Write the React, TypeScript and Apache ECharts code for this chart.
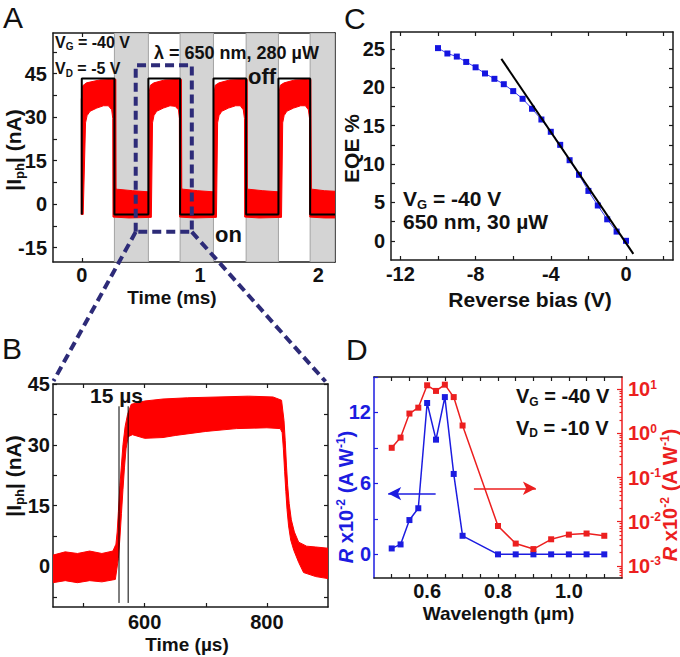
import React, { useEffect, useRef } from 'react';
import * as echarts from 'echarts';

const FONT = '"Liberation Sans", Arial, Helvetica, sans-serif';
const BLACK = '#1a1a1a';
const RED = '#ff0000';
const NAVY = '#2d2b78';
const C_BLUE = '#1515e0';
const D_BLUE = '#1c1ce0';
const D_RED = '#ec1f1f';
const TICK_FONT = 20;
const TITLE_FONT = 19;

// ---------------- Panel A : photocurrent vs time (ms) ----------------
const aTimeRange = [-0.243, 2.14];
const aCurrentRange = [-20, 59];
const aTimeTicks = [0, 0.5, 1, 1.5, 2];
const aTimeLabels = [0, 1, 2];
const aCurrentTicks = [-15, -7.5, 0, 7.5, 15, 22.5, 30, 37.5, 45, 52.5];
const aCurrentLabels = [-15, 0, 15, 30, 45];
const aOffStart = [0.276, 0.831, 1.389, 1.93];
const aOffEnd = [0.563, 1.113, 1.662, 2.14];
const aDriveHigh = 43.3;
const aDriveLow = -3.6;
// outer and inner boundary of the measured (red) trace
const aTraceOuter = [
  [-0.004, -3.6], [-0.004, 36], [0.008, 40.8], [0.04, 41.8], [0.15, 42.8], [0.25, 43.0], [0.288, 43.0], [0.29, 5.2],
  [0.3, 5.1], [0.43, 4.6], [0.566, 4.2],
  [0.568, 38], [0.58, 41.0], [0.61, 41.8], [0.7, 42.8], [0.82, 43.0], [0.842, 43.0], [0.845, 5.2],
  [0.86, 5.1], [0.98, 4.6], [1.115, 4.2],
  [1.117, 38], [1.128, 41.0], [1.16, 41.8], [1.25, 42.8], [1.37, 43.0], [1.398, 43.0], [1.4, 5.2],
  [1.41, 5.1], [1.53, 4.6], [1.664, 4.2],
  [1.666, 38], [1.678, 41.0], [1.71, 41.8], [1.8, 42.8], [1.91, 43.0], [1.936, 43.0], [1.94, 5.2],
  [1.95, 5.1], [2.05, 4.6], [2.14, 4.4],
];
const aTraceInner = [
  [0.012, -3.6], [0.032, 28], [0.045, 30.5], [0.07, 32.0], [0.127, 33.1], [0.183, 33.9], [0.225, 33.9], [0.253, 32.5], [0.262, 29.5], [0.264, -4.5], [0.4, -4.8], [0.588, -4.6],
  [0.598, 28], [0.61, 30.5], [0.633, 32.0], [0.69, 33.1], [0.746, 33.9], [0.789, 33.7], [0.817, 32.5], [0.825, 29.5], [0.827, -4.5], [0.95, -4.8], [1.138, -4.6],
  [1.148, 28], [1.16, 30.5], [1.183, 32.0], [1.24, 33.1], [1.3, 33.9], [1.34, 33.9], [1.365, 32.5], [1.375, 29.5], [1.377, -4.5], [1.5, -4.8], [1.688, -4.6],
  [1.698, 28], [1.71, 30.5], [1.733, 32.0], [1.79, 33.1], [1.85, 33.9], [1.89, 33.9], [1.915, 32.5], [1.925, 29.5], [1.927, -4.5], [2.05, -4.8], [2.14, -4.8],
];
const aZoomT = [0.456, 0.93];
const aZoomI = [-9.6, 47.9];

// ---------------- Panel B : zoom, time in µs ----------------
const bTimeRange = [450, 900];
const bCurrentRange = [-10, 45];
const bTimeTicks = [500, 600, 700, 800];
const bTimeLabels = [600, 800];
const bCurrentTicks = [-7.5, 0, 7.5, 15, 22.5, 30, 37.5, 45];
const bCurrentLabels = [0, 15, 30, 45];
const bTraceUpper = [
  [450, 2.8], [470, 3.6], [490, 3.2], [510, 3.8], [530, 3.2], [548, 3.8], [553, 5.5], [555, 8.5], [557, 13.5], [559.5, 20],
  [562, 25], [564.5, 30], [568, 34.5], [572, 37.5], [578, 40], [600, 40.8], [630, 41.3], [670, 41.6], [720, 41.8], [770, 42],
  [810, 41.8], [824, 41], [828, 36], [830, 31], [832, 25], [834, 20], [836.5, 15.5], [840, 11.5], [845, 8.5], [852, 6],
  [865, 5], [880, 4.8], [900, 4.5],
];
const bTraceLower = [
  [450, -4], [470, -3.5], [490, -4], [510, -3.5], [530, -3.8], [552, -3.2], [557, 2], [559.5, 7], [562, 13], [564.5, 19],
  [567, 24.5], [569.5, 29], [573, 32], [580, 32.5], [600, 31.6], [630, 31.8], [650, 32.3], [700, 33.3], [750, 34], [800, 34.2],
  [822, 34], [825, 33], [827, 29], [829, 23.5], [831, 18.5], [833, 14], [835.5, 10], [839, 6.5], [844, 4], [852, 1],
  [860, -1.5], [880, -2.5], [900, -3],
];
const bRiseMarkers = [558, 573];
const bMarkerSpan = [-9, 39.5];

// ---------------- Panel C : EQE vs reverse bias ----------------
const cBiasRange = [-12.5, 2.5];
const cEqeRange = [-2.5, 27.2];
const cBiasTicks = [-12, -10, -8, -6, -4, -2, 0, 2];
const cBiasLabels = [-12, -8, -4, 0];
const cEqeTicks = [0, 2.5, 5, 7.5, 10, 12.5, 15, 17.5, 20, 22.5, 25];
const cEqeLabels = [0, 5, 10, 15, 20, 25];
const cBias = [-10, -9.5, -9, -8.5, -8, -7.5, -7, -6.5, -6, -5.5, -5, -4.5, -4, -3.5, -3, -2.5, -2, -1.5, -1, -0.5, 0];
const cEqe = [25.1, 24.4, 24.0, 23.3, 22.6, 21.8, 21.1, 20.4, 19.5, 18.5, 17.2, 15.8, 14.2, 12.5, 10.5, 8.6, 6.5, 4.6, 2.8, 1.2, 0];
const cFitBias = [-6.63, 0.39];
const cFitEqe = [23.7, -1.7];

// ---------------- Panel D : responsivity vs wavelength ----------------
const dWlRange = [0.45, 1.15];
const dLinRange = [-2, 15];
const dLogRange = [-3.274, 1.274]; // decades
const dWlTicks = [0.5, 0.55, 0.6, 0.65, 0.7, 0.75, 0.8, 0.85, 0.9, 0.95, 1.0, 1.05, 1.1];
const dWlLabels = [0.6, 0.8, 1.0];
const dLinTicks = [0, 3, 6, 9, 12, 15];
const dLinLabels = [0, 6, 12];
const dLogDecades = [-3, -2, -1, 0, 1];
const dWavelength = [0.5, 0.525, 0.55, 0.575, 0.6, 0.625, 0.65, 0.675, 0.7, 0.8, 0.85, 0.9, 0.95, 1.0, 1.05, 1.1];
const dRespLinear = [0.5, 0.84, 2.9, 3.9, 12.8, 9.7, 13.3, 6.8, 1.57, 0, 0, 0, 0, 0, 0, 0];
const dRespLog = [0.47, 0.8, 2.8, 3.8, 12.2, 9.1, 12.6, 6.6, 1.5, 0.008, 0.0032, 0.0024, 0.004, 0.0051, 0.0054, 0.0048];
const dBlueArrow = [[0.624, 5.14], [0.49, 5.14]];
const dRedArrow = [[0.732, -1.244], [0.907, -1.244]];

// ---------------- layout ----------------
const gridA = { left: 53, top: 33, width: 282, height: 229 };
const gridB = { left: 53, top: 384, width: 275, height: 223 };
const gridC = { left: 391, top: 32, width: 282, height: 228 };
const gridD = { left: 374, top: 377, width: 248, height: 201 };

function axis(gridIndex: number, range: number[], position: string, ticks: number[], labels: number[] | null, o: any = {}) {
  const color = o.color || BLACK;
  const a: any = {
    type: 'value', gridIndex, min: range[0], max: range[1], position,
    axisLine: { show: o.line !== false, onZero: false, lineStyle: { color, width: 1.5 } },
    axisTick: { show: true, inside: true, length: o.tickLen || 4, customValues: ticks, lineStyle: { color, width: 1.2 } },
    splitLine: { show: false },
    axisLabel: { show: false },
  };
  if (labels) {
    a.axisLabel = {
      show: true, customValues: labels, margin: o.margin ?? 5, fontSize: o.fontSize || TICK_FONT,
      fontWeight: 'bold', fontFamily: FONT, color: o.labelColor || '#111',
    };
    if (o.formatter) a.axisLabel.formatter = o.formatter;
    if (o.rich) a.axisLabel.rich = o.rich;
  }
  return a;
}

function richSet(size: number, color: string) {
  const small = Math.round(size * 0.6);
  const base = { fontSize: size, fontWeight: 'bold', fontFamily: FONT, fill: color, color };
  return {
    b: base,
    i: { ...base, fontStyle: 'italic' },
    u: { fontSize: small, fontWeight: 'bold', fontFamily: FONT, fill: color, color, padding: [Math.round(size * 0.55), 0, 0, 0] },
    s: { fontSize: small, fontWeight: 'bold', fontFamily: FONT, fill: color, color, padding: [0, 0, Math.round(size * 0.5), 0] },
  };
}

function txt(x: number, y: number, text: string, size: number, o: any = {}) {
  const color = o.color || '#111';
  return {
    type: 'text', x, y, rotation: o.rot || 0, z: 100, silent: true,
    style: {
      text, rich: richSet(size, color), fill: color, fontSize: size, fontFamily: FONT,
      fontWeight: o.weight || 'bold', align: o.align || 'left', verticalAlign: 'middle',
    },
  };
}

function polygonSeries(xi: number, yi: number, pts: number[][], z: number) {
  return {
    type: 'custom', coordinateSystem: 'cartesian2d', xAxisIndex: xi, yAxisIndex: yi, z, silent: true, clip: true,
    data: [[pts[0][0], pts[0][1]]],
    renderItem: (_p: any, api: any) => ({
      type: 'polygon',
      shape: { points: pts.map((p) => api.coord(p)) },
      style: { fill: RED, stroke: RED, lineWidth: 1 },
    }),
  };
}

function buildOption() {
  const drive: number[][] = [[0, aDriveLow], [0, aDriveHigh]];
  aOffStart.forEach((s, i) => {
    drive.push([s, aDriveHigh], [s, aDriveLow], [aOffEnd[i], aDriveLow]);
    if (aOffEnd[i] < aTimeRange[1]) drive.push([aOffEnd[i], aDriveHigh]);
  });
  const aPoly = [...aTraceOuter, ...aTraceInner.slice().reverse()];
  const bPoly = [...bTraceUpper, ...bTraceLower.slice().reverse()];
  const zoomBox = [
    [aZoomT[0], aZoomI[0]], [aZoomT[0], aZoomI[1]], [aZoomT[1], aZoomI[1]], [aZoomT[1], aZoomI[0]], [aZoomT[0], aZoomI[0]],
  ];
  const logMinor: number[] = [];
  for (let n = -4; n <= 1; n++) {
    for (let k = 2; k <= 9; k++) {
      const v = n + Math.log10(k);
      if (v > dLogRange[0] && v < dLogRange[1]) logMinor.push(v);
    }
  }
  const logRich = {
    b: { fontSize: 20, fontWeight: 'bold', fontFamily: FONT, color: D_RED },
    s: { fontSize: 12, fontWeight: 'bold', fontFamily: FONT, color: D_RED, padding: [0, 0, 9, 0] },
  };

  return {
    animation: false,
    backgroundColor: '#ffffff',
    grid: [gridA, gridB, gridC, gridD].map((g) => ({ ...g, containLabel: false, outerBoundsMode: 'none' })),
    xAxis: [
      axis(0, aTimeRange, 'bottom', aTimeTicks, aTimeLabels, { margin: 3 }),
      axis(0, aTimeRange, 'top', aTimeTicks, null),
      axis(1, bTimeRange, 'bottom', bTimeTicks, bTimeLabels, { margin: 5 }),
      axis(1, bTimeRange, 'top', bTimeTicks, null),
      axis(2, cBiasRange, 'bottom', cBiasTicks, cBiasLabels, { margin: 4 }),
      axis(2, cBiasRange, 'top', cBiasTicks, null),
      axis(3, dWlRange, 'bottom', dWlTicks, dWlLabels, { margin: 3, formatter: (v: number) => v.toFixed(1) }),
      axis(3, dWlRange, 'top', dWlTicks, null),
    ],
    yAxis: [
      axis(0, aCurrentRange, 'left', aCurrentTicks, aCurrentLabels, { margin: 6 }),
      axis(0, aCurrentRange, 'right', aCurrentTicks, null),
      axis(1, bCurrentRange, 'left', bCurrentTicks, bCurrentLabels, { margin: 3 }),
      axis(1, bCurrentRange, 'right', bCurrentTicks, null),
      axis(2, cEqeRange, 'left', cEqeTicks, cEqeLabels, { margin: 6 }),
      axis(2, cEqeRange, 'right', cEqeTicks, null),
      axis(3, dLinRange, 'left', dLinTicks, dLinLabels, { margin: 3, color: D_BLUE, labelColor: D_BLUE }),
      axis(3, dLogRange, 'right', dLogDecades, dLogDecades, {
        margin: 6, color: D_RED, labelColor: D_RED, tickLen: 5,
        formatter: (v: number) => `{b|10}{s|${Math.round(v)}}`, rich: logRich,
      }),
      axis(3, dLogRange, 'right', logMinor, null, { color: D_RED, tickLen: 2.5, line: false }),
    ],
    series: [
      // A: light-off bands
      {
        type: 'custom', coordinateSystem: 'cartesian2d', xAxisIndex: 0, yAxisIndex: 0, z: 1, silent: true, clip: true,
        data: aOffStart.map((s, i) => [s, aOffEnd[i]]),
        renderItem: (_p: any, api: any) => {
          const p1 = api.coord([api.value(0), aCurrentRange[1]]);
          const p2 = api.coord([api.value(1), aCurrentRange[0]]);
          return {
            type: 'rect',
            shape: { x: p1[0], y: p1[1], width: p2[0] - p1[0], height: p2[1] - p1[1] },
            style: { fill: '#d4d4d4', stroke: '#a3a3a3', lineWidth: 1 },
          };
        },
      },
      polygonSeries(0, 0, aPoly, 2),
      {
        type: 'line', xAxisIndex: 0, yAxisIndex: 0, z: 3, data: drive, symbol: 'none', silent: true,
        lineStyle: { color: '#000', width: 2 },
      },
      {
        type: 'line', xAxisIndex: 0, yAxisIndex: 0, z: 6, data: zoomBox, symbol: 'none', silent: true,
        lineStyle: { color: NAVY, width: 4, type: [9, 5] },
      },
      // B
      polygonSeries(2, 2, bPoly, 2),
      ...bRiseMarkers.map((t) => ({
        type: 'line', xAxisIndex: 2, yAxisIndex: 2, z: 4, symbol: 'none', silent: true,
        data: [[t, bMarkerSpan[0]], [t, bMarkerSpan[1]]],
        lineStyle: { color: '#000', width: 1 },
      })),
      // C
      {
        type: 'line', xAxisIndex: 4, yAxisIndex: 4, z: 3, silent: true,
        data: cBias.map((b, i) => [b, cEqe[i]]),
        symbol: 'rect', symbolSize: 6, itemStyle: { color: C_BLUE }, lineStyle: { color: '#3c3cf0', width: 1 },
      },
      {
        type: 'line', xAxisIndex: 4, yAxisIndex: 4, z: 4, symbol: 'none', silent: true,
        data: cFitBias.map((b, i) => [b, cFitEqe[i]]),
        lineStyle: { color: '#000', width: 2 },
      },
      // D
      {
        type: 'line', xAxisIndex: 6, yAxisIndex: 6, z: 3, silent: true,
        data: dWavelength.map((w, i) => [w, dRespLinear[i]]),
        symbol: 'rect', symbolSize: 6, itemStyle: { color: D_BLUE }, lineStyle: { color: D_BLUE, width: 1.5 },
        markLine: {
          silent: true, symbol: ['none', 'arrow'], symbolSize: [10, 13], animation: false,
          label: { show: false }, lineStyle: { color: D_BLUE, width: 1.5, type: 'solid' },
          data: [[{ coord: dBlueArrow[0] }, { coord: dBlueArrow[1] }]],
        },
      },
      {
        type: 'line', xAxisIndex: 6, yAxisIndex: 7, z: 3, silent: true,
        data: dWavelength.map((w, i) => [w, Math.log10(dRespLog[i])]),
        symbol: 'rect', symbolSize: 6, itemStyle: { color: D_RED }, lineStyle: { color: D_RED, width: 1.5 },
        markLine: {
          silent: true, symbol: ['none', 'arrow'], symbolSize: [10, 13], animation: false,
          label: { show: false }, lineStyle: { color: D_RED, width: 1.5, type: 'solid' },
          data: [[{ coord: dRedArrow[0] }, { coord: dRedArrow[1] }]],
        },
      },
    ],
  };
}

function buildGraphic(chart: any) {
  const bl = chart.convertToPixel({ xAxisIndex: 0, yAxisIndex: 0 }, [aZoomT[0], aZoomI[0]]);
  const br = chart.convertToPixel({ xAxisIndex: 0, yAxisIndex: 0 }, [aZoomT[1], aZoomI[0]]);
  const tl = chart.convertToPixel({ xAxisIndex: 2, yAxisIndex: 2 }, [bTimeRange[0], bCurrentRange[1]]);
  const tr = chart.convertToPixel({ xAxisIndex: 2, yAxisIndex: 2 }, [bTimeRange[1], bCurrentRange[1]]);
  const dash = (a: number[], b: number[]) => ({
    type: 'line', z: 90, silent: true,
    shape: { x1: a[0], y1: a[1], x2: b[0], y2: b[1] },
    style: { stroke: NAVY, lineWidth: 4, lineDash: [9, 5] },
  });
  const rTitle = '{i|R}{b| x10}{s|-2}{b| (A W}{s|-1}{b|)}';
  return [
    dash(bl, [tl[0] + 0.5, tl[1] - 3]),
    dash(br, [tr[0] - 2.5, tr[1] - 2.5]),
    // panel letters
    txt(3, 17, 'A', 30, { weight: 'normal' }),
    txt(2, 348, 'B', 30, { weight: 'normal' }),
    txt(344, 18, 'C', 30, { weight: 'normal' }),
    txt(346, 349, 'D', 30, { weight: 'normal' }),
    // A annotations
    txt(55, 42, '{b|V}{u|G}{b| = -40 V}', 16),
    txt(55, 68.5, '{b|V}{u|D}{b| = -5 V}', 16),
    txt(154, 53, '{b|λ = 650 nm, 280 µW}', 18),
    txt(248, 76, '{b|off}', 22),
    txt(215, 234, '{b|on}', 22),
    txt(172, 297, '{b|Time (ms)}', TITLE_FONT, { align: 'center' }),
    txt(13.5, 150, '{b||I}{u|ph}{b|| (nA)}', 21, { align: 'center', rot: Math.PI / 2 }),
    // B
    txt(90, 395, '{b|15 µs}', 21),
    txt(187, 644, '{b|Time (µs)}', TITLE_FONT, { align: 'center' }),
    txt(13.5, 476, '{b||I}{u|ph}{b|| (nA)}', 21, { align: 'center', rot: Math.PI / 2 }),
    // C
    txt(403, 198, '{b|V}{u|G}{b| = -40 V}', 21),
    txt(403, 221.5, '{b|650 nm, 30 µW}', 21),
    txt(530, 299, '{b|Reverse bias (V)}', 21, { align: 'center' }),
    txt(351.5, 148.5, '{b|EQE %}', 21, { align: 'center', rot: Math.PI / 2 }),
    // D
    txt(516, 396, '{b|V}{u|G}{b| = -40 V}', 20),
    txt(516, 427.5, '{b|V}{u|D}{b| = -10 V}', 20),
    txt(498.5, 613, '{b|Wavelength (µm)}', TITLE_FONT, { align: 'center' }),
    txt(346, 497, rTitle, 20, { align: 'center', rot: Math.PI / 2, color: D_BLUE }),
    txt(670, 495, rTitle, 20, { align: 'center', rot: Math.PI / 2, color: D_RED }),
  ];
}

export default function App() {
  const ref = useRef<HTMLDivElement>(null);
  useEffect(() => {
    if (!ref.current) return;
    const chart = echarts.init(ref.current, null, { renderer: 'svg' });
    chart.setOption(buildOption() as any);
    chart.setOption({ graphic: buildGraphic(chart) } as any);
    return () => chart.dispose();
  }, []);
  return (
    <div
      ref={ref}
      style={{ position: 'fixed', left: 0, top: 0, width: 680, height: 657, background: '#fff' }}
    />
  );
}
